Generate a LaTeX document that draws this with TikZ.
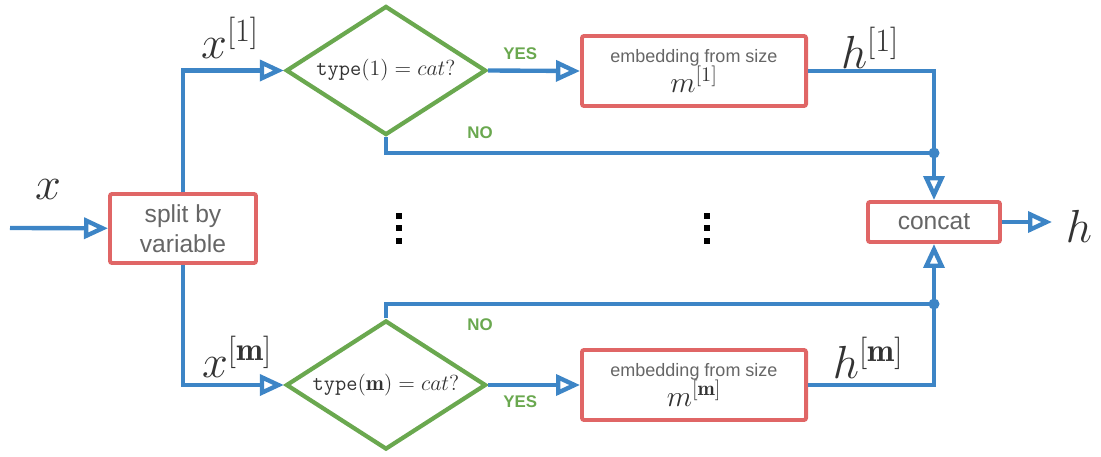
\documentclass[tikz,border=0pt]{standalone}
\usepackage{fix-cm}
\usepackage{fontspec}
\usepackage{amsmath}
\usetikzlibrary{arrows.meta, shapes.geometric}
\newfontfamily\boxfont{Liberation Sans}
\definecolor{flowblue}{HTML}{3D85C6}
\definecolor{boxred}{HTML}{E06666}
\definecolor{testgreen}{HTML}{6AA84F}
\definecolor{boxtext}{HTML}{666666}
\definecolor{mathtext}{HTML}{333333}
\tikzset{
  opbox/.style={draw=boxred, line width=2.8pt, rounded corners=1.5pt, fill=white,
    align=center, text=boxtext, inner sep=2pt},
  test/.style={diamond, draw=testgreen, line width=3pt, fill=white, aspect=1.55,
    inner sep=0pt, minimum width=5cm, minimum height=3.225cm, text=mathtext,
    font=\fontsize{15.5}{18}\selectfont},
  flow/.style={flowblue, line width=3.1pt},
  link/.style={flow, -{Triangle[open, length=6mm, width=5.2mm]}},
  mathlabel/.style={text=mathtext, inner sep=3pt, font=\fontsize{33}{38}\selectfont},
  answer/.style={text=testgreen, font=\boxfont\bfseries\fontsize{12}{14}\selectfont}
}

\begin{document}
\begin{tikzpicture}[x=0.025cm, y=-0.025cm]
  \useasboundingbox (0,0) rectangle (1101,456);

  % boxes and tests
  \node[opbox, minimum width=3.65cm, minimum height=1.725cm,
        font=\boxfont\fontsize{17.5}{21}\selectfont] (split) at (183,228.5) {split by\\variable};
  \node[test] (test1) at (386,70.5) {$\mathtt{type}(1) = cat?$};
  \node[test] (testm) at (386,385) {$\mathtt{type}(\mathbf{m}) = cat?$};
  \node[opbox, minimum width=5.6cm, minimum height=1.75cm] (embed1) at (694,71)
    {{\boxfont\fontsize{12.8}{15}\selectfont embedding from size}\\[-1pt]
     {\color{mathtext}\fontsize{21}{24}\selectfont$m^{[1]}$}};
  \node[opbox, minimum width=5.6cm, minimum height=1.75cm] (embedm) at (694,385)
    {{\boxfont\fontsize{12.8}{15}\selectfont embedding from size}\\[-1pt]
     {\color{mathtext}\fontsize{21}{24}\selectfont$m^{[\mathbf{m}]}$}};
  \node[opbox, minimum width=3.3cm, minimum height=1cm,
        font=\boxfont\fontsize{17.5}{21}\selectfont] (concat) at (934,222) {concat};

  % variable names
  \node[mathlabel] (xin) at (48,190) {$x$};
  \node[mathlabel] (x1) at (230,38) {$x^{[1]}$};
  \node[mathlabel] (xm) at (237,357) {$x^{[\mathbf{m}]}$};
  \node[mathlabel] (h1) at (870,48) {$h^{[1]}$};
  \node[mathlabel] (hm) at (868,358) {$h^{[\mathbf{m}]}$};
  \node[mathlabel] (hout) at (1079,226) {$h$};

  \coordinate (in) at (10,228);
  \coordinate (out) at (1052,222);
  \coordinate (join1) at (934,153);
  \coordinate (joinm) at (934,304);

  % flow
  \draw[link] (in) -- (split);
  \draw[link] (split.north) |- (test1.west);
  \draw[link] (split.south) |- (testm.west);
  \draw[link] (test1.east) -- (embed1.west) node[answer, pos=0.35, above=3pt] (yes1) {YES};
  \draw[link] (testm.east) -- (embedm.west) node[answer, pos=0.35, below=3pt] (yesm) {YES};
  \draw[link] (embed1.east) -| (concat.north);
  \draw[link] (embedm.east) -| (concat.south);
  \draw[flow] (test1.south) |- (join1);
  \draw[flow] (testm.north) |- (joinm);
  \fill[flowblue] (join1) circle (5.5);
  \fill[flowblue] (joinm) circle (5.5);
  \draw[link] (concat.east) -- (out);
  \node[answer] (no1) at (480,133) {NO};
  \node[answer] (nom) at (480,325) {NO};

  % skipped variables
  \foreach \px in {399,707}
    \foreach \py in {216,228,240.5}
      \fill (\px-3,\py-3) rectangle (\px+3,\py+3);
\end{tikzpicture}
\end{document}
